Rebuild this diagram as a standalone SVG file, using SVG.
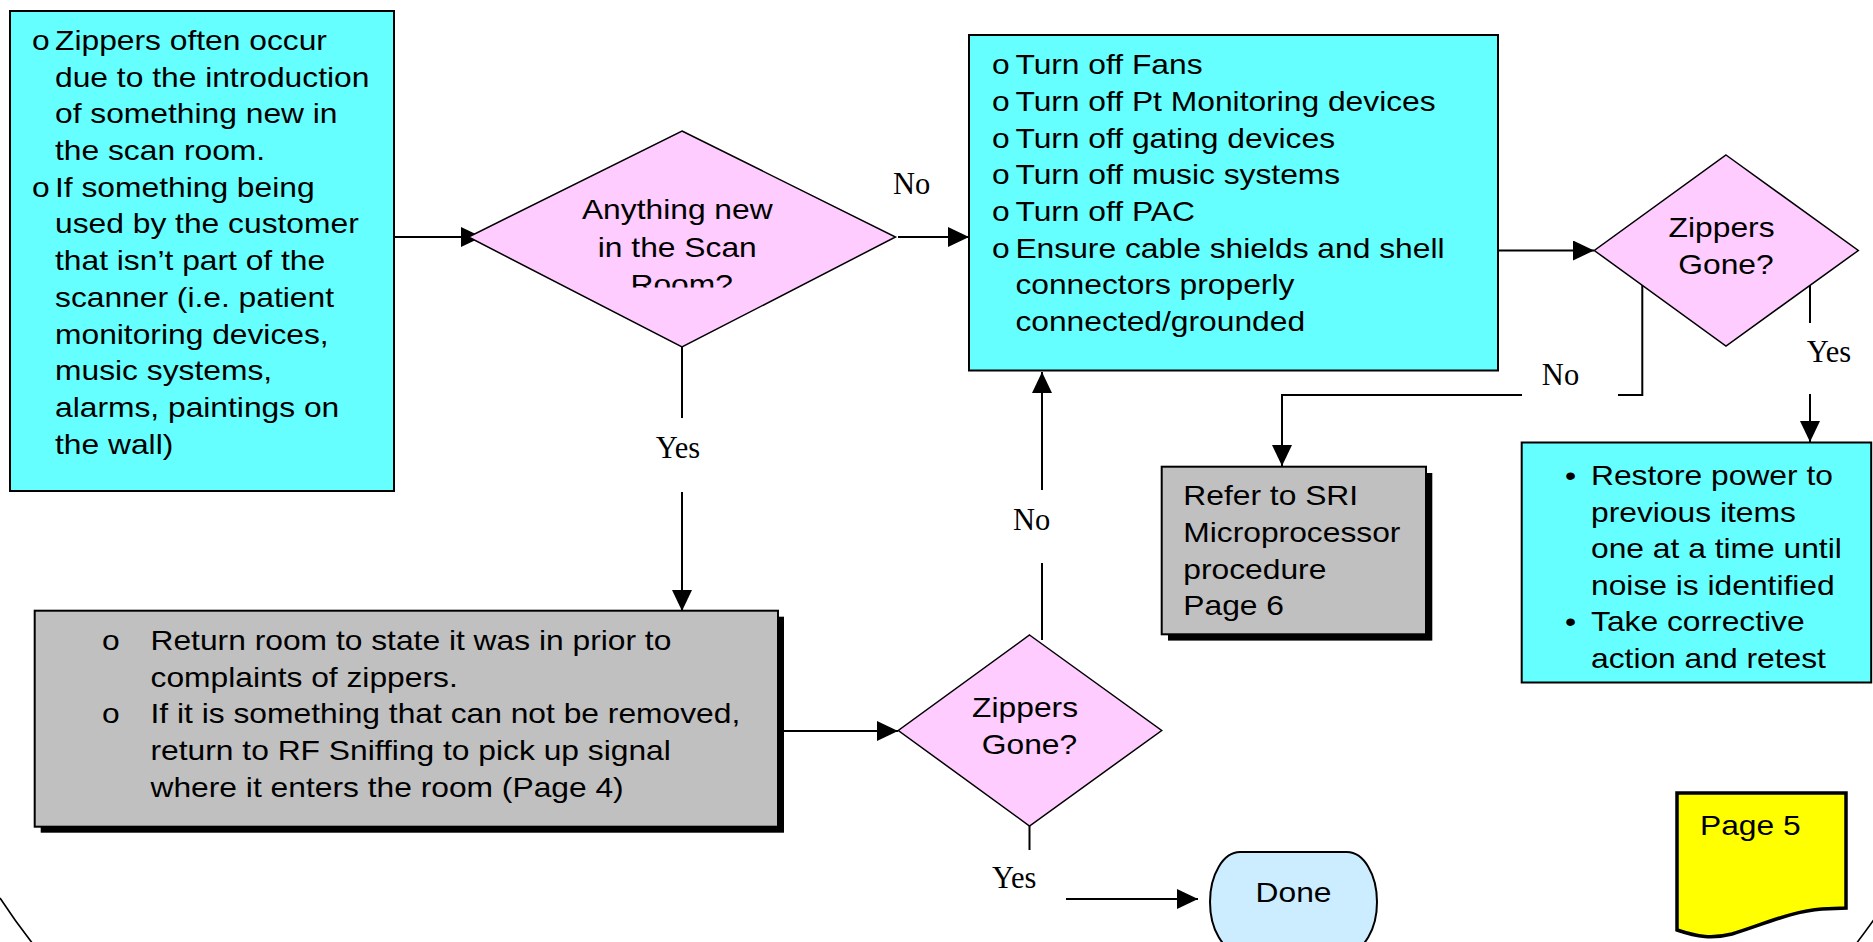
<svg xmlns="http://www.w3.org/2000/svg" width="1873" height="942" viewBox="0 0 1873 942">
<style>
.cyan{fill:#66FFFF;stroke:#000;stroke-width:2}
.gray{fill:#C0C0C0;stroke:#000;stroke-width:2}
.shadow{fill:#000}
.dia{fill:#FFCCFF;stroke:#000;stroke-width:1.5}
.t{font-family:"Liberation Sans",Arial,sans-serif;font-size:28px;fill:#000}
.lbl{font-family:"Liberation Serif","Times New Roman",serif;font-size:30.5px;fill:#000;text-anchor:middle}
.c{stroke:#000;stroke-width:2;fill:none}
.arc{stroke:#000;stroke-width:1.6;fill:none}
</style>
<defs>
<marker id="ah" markerUnits="userSpaceOnUse" markerWidth="21" markerHeight="20" refX="21" refY="10" orient="auto"><path d="M0,0 L21,10 L0,20 Z" fill="#000"/></marker>
<clipPath id="clipRoom"><rect x="400" y="100" width="600" height="187.5"/></clipPath>
</defs>
<rect width="1873" height="942" fill="#fff"/>

<g id="frame">
<path class="arc" d="M0,898 Q15,921 33,944"/>
<path class="arc" d="M1856,944 Q1865,932 1875,918"/>
</g>

<g id="connectors">
<line class="c" x1="394" y1="237" x2="482" y2="237" marker-end="url(#ah)"/>
<line class="c" x1="898" y1="237" x2="969" y2="237" marker-end="url(#ah)"/>
<line class="c" x1="682" y1="347" x2="682" y2="418"/>
<line class="c" x1="682" y1="492" x2="682" y2="611" marker-end="url(#ah)"/>
<line class="c" x1="778" y1="731" x2="898" y2="731" marker-end="url(#ah)"/>
<line class="c" x1="1042" y1="640" x2="1042" y2="563"/>
<line class="c" x1="1042" y1="490" x2="1042" y2="372" marker-end="url(#ah)"/>
<line class="c" x1="1029.5" y1="826" x2="1029.5" y2="850"/>
<line class="c" x1="1066" y1="899" x2="1198" y2="899" marker-end="url(#ah)"/>
<line class="c" x1="1498" y1="250.5" x2="1594" y2="250.5" marker-end="url(#ah)"/>
<polyline class="c" points="1642.3,285 1642.3,395 1618,395"/>
<polyline class="c" points="1522,395 1282,395 1282,466" marker-end="url(#ah)"/>
<line class="c" x1="1810" y1="285" x2="1810" y2="323"/>
<line class="c" x1="1810" y1="394" x2="1810" y2="442" marker-end="url(#ah)"/>
<text class="lbl" x="911.7" y="194">No</text>
<text class="lbl" x="678" y="458">Yes</text>
<text class="lbl" x="1031.7" y="530">No</text>
<text class="lbl" x="1014.3" y="888">Yes</text>
<text class="lbl" x="1560.5" y="385.4">No</text>
<text class="lbl" x="1829" y="362">Yes</text>
</g>

<g id="box-intro">
<rect class="cyan" x="10" y="11" width="384" height="480"/>
<text class="t" transform="translate(32,0) scale(1.135,1)"><tspan x="0" y="50">o</tspan><tspan x="0" y="196.8">o</tspan></text>
<text class="t" transform="translate(55,0) scale(1.135,1)">
<tspan x="0" y="50">Zippers often occur</tspan>
<tspan x="0" y="86.7">due to the introduction</tspan>
<tspan x="0" y="123.4">of something new in</tspan>
<tspan x="0" y="160.1">the scan room.</tspan>
<tspan x="0" y="196.8">If something being</tspan>
<tspan x="0" y="233.5">used by the customer</tspan>
<tspan x="0" y="270.2">that isn’t part of the</tspan>
<tspan x="0" y="306.9">scanner (i.e. patient</tspan>
<tspan x="0" y="343.6">monitoring devices,</tspan>
<tspan x="0" y="380.3">music systems,</tspan>
<tspan x="0" y="417">alarms, paintings on</tspan>
<tspan x="0" y="453.7">the wall)</tspan>
</text>
</g>

<g id="dec-new">
<polygon class="dia" points="682,131 895.5,237 682,347 468.5,237"/>
<g clip-path="url(#clipRoom)">
<text class="t" text-anchor="middle" transform="translate(681.7,0) scale(1.135,1)">
<tspan x="0" y="219">Anything new</tspan>
<tspan x="0" y="256.7">in the Scan</tspan>
<tspan x="0" y="294.4">Room?</tspan>
</text>
</g>
</g>

<g id="box-turnoff">
<rect class="cyan" x="969" y="35" width="529" height="335.5"/>
<text class="t" transform="translate(992,0) scale(1.135,1)">
<tspan x="0" y="74.3">o</tspan><tspan x="0" y="111">o</tspan><tspan x="0" y="147.7">o</tspan><tspan x="0" y="184.4">o</tspan><tspan x="0" y="221.1">o</tspan><tspan x="0" y="257.8">o</tspan>
</text>
<text class="t" transform="translate(1015.4,0) scale(1.135,1)">
<tspan x="0" y="74.3">Turn off Fans</tspan>
<tspan x="0" y="111">Turn off Pt Monitoring devices</tspan>
<tspan x="0" y="147.7">Turn off gating devices</tspan>
<tspan x="0" y="184.4">Turn off music systems</tspan>
<tspan x="0" y="221.1">Turn off PAC</tspan>
<tspan x="0" y="257.8">Ensure cable shields and shell</tspan>
<tspan x="0" y="294.5">connectors properly</tspan>
<tspan x="0" y="331.2">connected/grounded</tspan>
</text>
</g>

<g id="dec-gone-top">
<polygon class="dia" points="1726,155 1858.3,250.5 1726,346 1594.3,250.5"/>
<text class="t" text-anchor="middle" transform="translate(1726,0) scale(1.135,1)">
<tspan x="0" y="237.3">Zippers</tspan>
<tspan x="0" y="274">Gone?</tspan>
</text>
</g>

<g id="box-refer">
<rect class="shadow" x="1168" y="473" width="264.3" height="167.6"/>
<rect class="gray" x="1161.7" y="466.7" width="264.3" height="167.6"/>
<text class="t" transform="translate(1183.3,0) scale(1.135,1)">
<tspan x="0" y="505">Refer to SRI</tspan>
<tspan x="0" y="541.8">Microprocessor</tspan>
<tspan x="0" y="578.6">procedure</tspan>
<tspan x="0" y="615.4">Page 6</tspan>
</text>
</g>

<g id="box-restore">
<rect class="cyan" x="1521.7" y="442.5" width="349.5" height="240"/>
<text class="t" transform="translate(1565,0) scale(1.135,1)"><tspan x="0" y="485.4">•</tspan><tspan x="0" y="631.4">•</tspan></text>
<text class="t" transform="translate(1591,0) scale(1.135,1)">
<tspan x="0" y="485.4">Restore power to</tspan>
<tspan x="0" y="521.9">previous items</tspan>
<tspan x="0" y="558.4">one at a time until</tspan>
<tspan x="0" y="594.9">noise is identified</tspan>
<tspan x="0" y="631.4">Take corrective</tspan>
<tspan x="0" y="667.9">action and retest</tspan>
</text>
</g>

<g id="box-return">
<rect class="shadow" x="40.7" y="616.7" width="743.3" height="216"/>
<rect class="gray" x="34.7" y="610.7" width="743.3" height="216"/>
<text class="t" transform="translate(102,0) scale(1.135,1)"><tspan x="0" y="650">o</tspan><tspan x="0" y="723.4">o</tspan></text>
<text class="t" transform="translate(150.5,0) scale(1.135,1)">
<tspan x="0" y="650">Return room to state it was in prior to</tspan>
<tspan x="0" y="686.7">complaints of zippers.</tspan>
<tspan x="0" y="723.4">If it is something that can not be removed,</tspan>
<tspan x="0" y="760.1">return to RF Sniffing to pick up signal</tspan>
<tspan x="0" y="796.8">where it enters the room (Page 4)</tspan>
</text>
</g>

<g id="dec-gone-bottom">
<polygon class="dia" points="1029.5,635 1161.7,730.5 1029.5,826 898.3,730.5"/>
<text class="t" text-anchor="middle" transform="translate(1029.5,0) scale(1.135,1)">
<tspan x="0" y="717.3">Zippers</tspan>
<tspan x="0" y="754">Gone?</tspan>
</text>
</g>

<g id="term-done">
<path d="M1240,852 H1347 A30 50 0 0 1 1347,952 H1240 A30 50 0 0 1 1240,852 Z" fill="#CCECFF" stroke="#000" stroke-width="2"/>
<text class="t" text-anchor="middle" transform="translate(1293.5,0) scale(1.135,1)" x="0" y="901.7">Done</text>
</g>

<g id="page-5">
<path d="M1677,793 H1846 V908 L1822,909 C1792,911 1762,925 1732,934 C1712,939 1698,937 1677,930 Z" fill="#FFFF00" stroke="#000" stroke-width="3.5"/>
<text class="t" transform="translate(1700,0) scale(1.135,1)" x="0" y="835">Page 5</text>
</g>
</svg>
